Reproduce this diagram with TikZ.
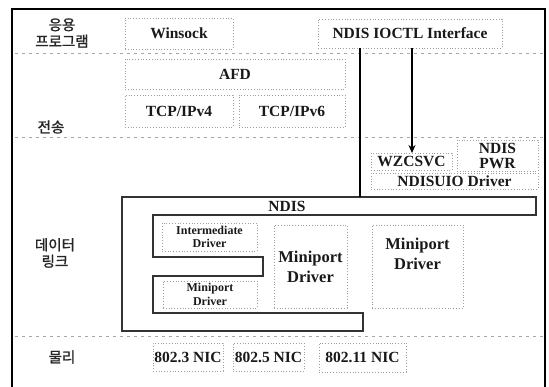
\documentclass[tikz,border=0pt]{standalone}
\usepackage{fontspec}
\setmainfont{Liberation Serif}
\newfontfamily\krfont[FakeBold=1.5]{Noto Sans CJK KR}
\usetikzlibrary{arrows.meta}

\tikzset{
  box/.style={draw=gray!75, dotted, line width=0.8pt, inner sep=0pt,
              font=\bfseries\fontsize{15.5}{16}\selectfont, text=black!90, align=center},
  smallbox/.style={box, font=\bfseries\fontsize{12}{13.5}\selectfont},
  bigbox/.style={box, font=\bfseries\fontsize{16.5}{20}\selectfont},
  layer/.style={font=\krfont\fontsize{14.5}{16.5}\selectfont, text=black!85, align=center},
  sep/.style={draw=gray!70, line width=0.8pt, dash pattern=on 3pt off 4pt},
  wrapper/.style={draw=black!80, line width=1.2pt, line join=miter},
  feed/.style={draw=black, line width=2pt},
}

\begin{document}
\begin{tikzpicture}[x=1pt, y=-1pt]
\useasboundingbox (0,0) rectangle (549,387);

% outer frame (open at the bottom edge)
\draw[black, line width=1.5pt] (12,387) -- (12,9) -- (545,9) -- (545,387);

% layer separators
\draw[sep] (15,53) -- (545,53);
\draw[sep] (15,137) -- (545,137);
\draw[sep] (15,336) -- (545,336);

% layer names
\node[layer] (app)  at (62,33) {응용\\프로그램};
\node[layer] (tran) at (51,127) {전송};
\node[layer] (dlink) at (55,253) {데이터\\링크};
\node[layer] (phys) at (62,357) {물리};

% application and transport components
\node[box, minimum width=108pt, minimum height=31pt] (winsock) at (179,33.5) {Winsock};
\node[box, minimum width=184pt, minimum height=29pt] (ioctl) at (410,33.5) {NDIS IOCTL Interface};
\node[box, minimum width=220pt, minimum height=30pt] (afd) at (235,74) {AFD};
\node[box, minimum width=108pt, minimum height=32pt] (tcp4) at (179,111) {TCP/IPv4};
\node[box, minimum width=106pt, minimum height=32pt] (tcp6) at (292,111) {TCP/IPv6};

% services above the NDIS wrapper
\node[box, minimum width=81pt, minimum height=17pt] (wzc) at (411.5,161.5) {WZCSVC};
\node[box, minimum width=81pt, minimum height=31pt, font=\bfseries\fontsize{15.5}{15}\selectfont] (pwr) at (497.5,155.5) {NDIS\\PWR};
\node[box, minimum width=167pt, minimum height=16pt] (uio) at (454.5,181) {NDISUIO Driver};

% NDIS wrapper outline
\draw[wrapper] (122,197) -- (536,197) -- (536,215) -- (153,215) -- (153,257)
  -- (263,257) -- (263,276) -- (153,276) -- (153,313) -- (363,313)
  -- (363,331) -- (122,331) -- cycle;
\node[font=\bfseries\fontsize{15.5}{16}\selectfont, text=black!90] (ndis) at (287,206) {NDIS};
\coordinate (ndistop) at (360,197);
\coordinate (wzcin) at (412,153);

% drivers inside the wrapper
\node[smallbox, minimum width=95pt, minimum height=28pt] (inter) at (209.5,237) {Intermediate\\Driver};
\node[smallbox, minimum width=94pt, minimum height=27pt] (mpsmall) at (210,294.5) {Miniport\\Driver};
\node[bigbox, minimum width=73pt, minimum height=83pt] (mp1) at (310.5,266.5) {Miniport\\Driver};
\node[bigbox, minimum width=91pt, minimum height=83pt] (mp2) at (417.5,266.5) {Miniport\\Driver\\[6pt]\mbox{}};

% network adapters
\node[box, minimum width=70pt, minimum height=28pt] (nic3) at (188,357) {802.3 NIC};
\node[box, minimum width=71pt, minimum height=28pt] (nic5) at (268.5,357) {802.5 NIC};
\node[box, minimum width=87pt, minimum height=29pt] (nic11) at (362.5,357.5) {802.11 NIC};

% IOCTL paths
\draw[feed] (ioctl.south -| ndistop) -- (ndistop);
\draw[feed, -{Stealth[length=8pt, width=7pt]}] (ioctl.south -| wzcin) -- (wzcin);
\end{tikzpicture}
\end{document}
